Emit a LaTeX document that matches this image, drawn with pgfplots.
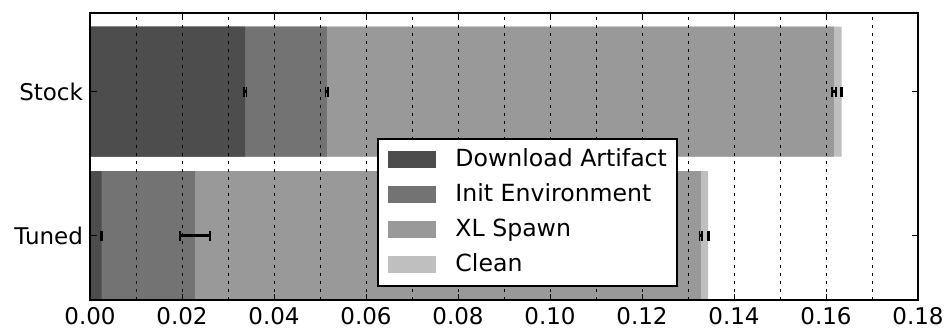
\documentclass[border=0pt]{standalone}
\usepackage{fontspec}
\setmainfont{DejaVu Sans}
\usepackage{pgfplots}
\pgfplotsset{compat=1.18}
\definecolor{cDA}{HTML}{4D4D4D}
\definecolor{cIE}{HTML}{737373}
\definecolor{cXL}{HTML}{999999}
\definecolor{cCL}{HTML}{BFBFBF}
\newcommand{\fs}{\fontsize{11.5}{13.8}\selectfont}
\newcommand{\fl}{\fontsize{11.8}{14.2}\selectfont}
\begin{document}
\begin{tikzpicture}
\begin{axis}[
  name=ax,
  scale only axis,
  width=414pt, height=143.5pt,
  xmin=0, xmax=0.18,
  ymin=-0.444, ymax=1.545,
  xtick={0,0.02,0.04,0.06,0.08,0.10,0.12,0.14,0.16,0.18},
  minor xtick={0.01,0.03,0.05,0.07,0.09,0.11,0.13,0.15,0.17},
  ytick={0,1},
  yticklabels={Tuned,Stock},
  xticklabel style={/pgf/number format/.cd, fixed, fixed zerofill, precision=2, assume math mode=true},
  tick label style={font=\fs},
  axis on top,
  axis line style={line width=1pt},
  tick align=inside,
  major tick length=3.25pt,
  minor tick length=0pt,
  tick style={black, line width=0.5pt},
  xmajorgrids, xminorgrids,
  major grid style={black, line width=0.5pt, dash pattern=on 1.5pt off 2.5pt},
  minor grid style={black, line width=0.5pt, dash pattern=on 1.5pt off 2.5pt},
  reverse legend,
  legend cell align=left,
  legend image code/.code={\path[#1,draw=none] (0pt,-4.25pt) rectangle (24pt,4.25pt);},
  legend style={at={(0.7101,0.0453)}, anchor=south east, draw=black, line width=1pt,
    inner xsep=5pt, inner ysep=5pt, row sep=6.3pt, column sep=9.5pt,
    font=\fl, nodes={inner sep=0pt, text height=8.7pt, text depth=2.5pt}},
  every axis plot/.append style={xbar, bar width=0.9, bar shift=0pt, draw=none},
  error bars/x dir=both, error bars/x explicit,
  error bars/error mark=|,
  error bars/error mark options={black, mark size=2.5pt, line width=0.9pt},
  error bars/error bar style={draw=black, line width=1.5pt},
]
\addplot[fill=cCL] coordinates {(0.1344,0) +- (0.0001,0) (0.1634,1) +- (0.0001,0)};
\addlegendentry{Clean}
\addplot[fill=cXL] coordinates {(0.1328,0) +- (0.0003,0) (0.1617,1) +- (0.0004,0)};
\addlegendentry{XL Spawn}
\addplot[fill=cIE] coordinates {(0.0228,0) +- (0.0033,0) (0.0515,1) +- (0.0003,0)};
\addlegendentry{Init Environment}
\addplot[fill=cDA] coordinates {(0.0025,0) +- (0.0001,0) (0.0337,1) +- (0.0003,0)};
\addlegendentry{Download Artifact}
\end{axis}
\pgfresetboundingbox
\path ([xshift=-45pt,yshift=-13.5pt]ax.south west) rectangle ([xshift=14pt,yshift=6.5pt]ax.north east);
\end{tikzpicture}
\end{document}
